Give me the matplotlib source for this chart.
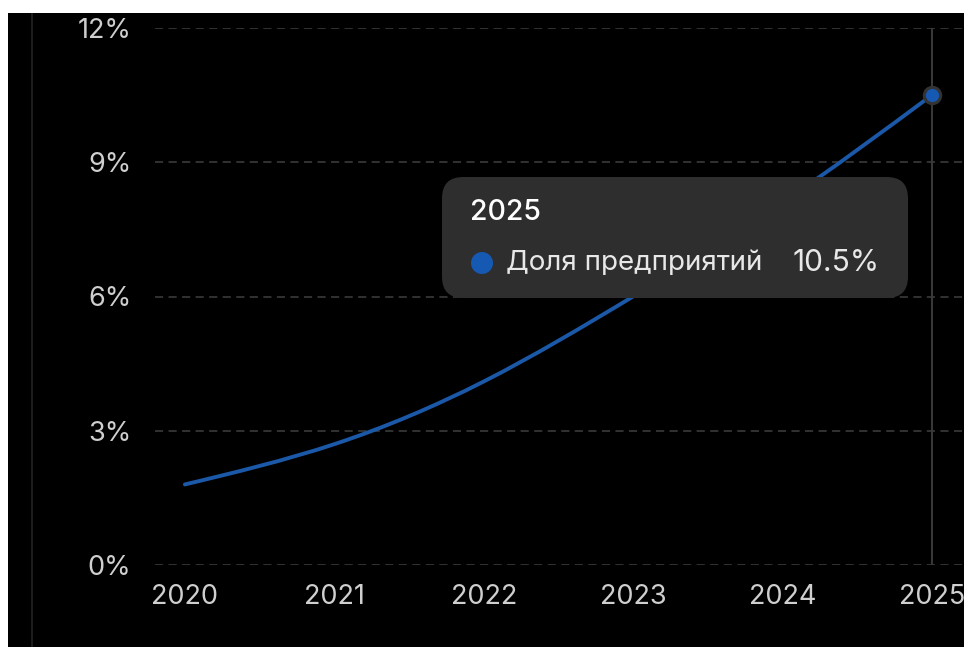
import numpy as np
import matplotlib
matplotlib.use("Agg")
import matplotlib.pyplot as plt
from matplotlib.path import Path
from matplotlib.patches import PathPatch, FancyBboxPatch, Rectangle, Circle

plt.rcParams['font.family'] = ['Inter', 'DejaVu Sans']

years = [2020, 2021, 2022, 2023, 2024, 2025]
share = [1.8, 2.7, 4.1, 6.0, 8.1, 10.5]
yticks = [0, 3, 6, 9, 12]
series_name = 'Доля предприятий'
hover_idx = 5

W, H = 964, 647
LINE = '#1b58a8'
GRID = '#363636'
TXT = '#cfcfcf'


def spline_path(x, y):
    # natural cubic spline through the points, drawn as bezier segments
    x = np.asarray(x, float)
    y = np.asarray(y, float)
    n = len(x)
    h = np.diff(x)
    A = np.zeros((n, n))
    b = np.zeros(n)
    A[0, 0] = A[-1, -1] = 1
    for i in range(1, n - 1):
        A[i, i - 1] = h[i - 1]
        A[i, i] = 2 * (h[i - 1] + h[i])
        A[i, i + 1] = h[i]
        b[i] = 6 * ((y[i + 1] - y[i]) / h[i] - (y[i] - y[i - 1]) / h[i - 1])
    M = np.linalg.solve(A, b)
    verts = [(x[0], y[0])]
    codes = [Path.MOVETO]
    for i in range(n - 1):
        s = (y[i + 1] - y[i]) / h[i]
        m0 = s - h[i] * (2 * M[i] + M[i + 1]) / 6
        m1 = s + h[i] * (M[i] + 2 * M[i + 1]) / 6
        dx = h[i] / 3
        verts += [(x[i] + dx, y[i] + m0 * dx),
                  (x[i + 1] - dx, y[i + 1] - m1 * dx),
                  (x[i + 1], y[i + 1])]
        codes += [Path.CURVE4] * 3
    return Path(verts, codes)


fig = plt.figure(figsize=(W / 100, H / 100), dpi=100, facecolor='black')

# white strips at top and left, faint vertical line
fig.patches.append(Rectangle((0, 1 - 13 / H), 1, 13 / H, transform=fig.transFigure,
                             facecolor='white', edgecolor='none', zorder=0))
fig.patches.append(Rectangle((0, 0), 8 / W, 1, transform=fig.transFigure,
                             facecolor='white', edgecolor='none', zorder=0))
fig.patches.append(Rectangle((31 / W, 0), 1.5 / W, 1 - 13 / H, transform=fig.transFigure,
                             facecolor='#1c1c1c', edgecolor='none', zorder=0))

ax = fig.add_axes([155 / W, (H - 565) / H, (W - 155) / W, (565 - 28) / H])
ax.set_facecolor('black')
ax.set_xlim(2019.8, 2025.215)
ax.set_ylim(0, 12)

for v in yticks:
    ax.axhline(v, color=GRID, lw=1.3, ls=(0, (4.5, 3)), zorder=1)

ax.axvline(years[hover_idx], color='#3a3a3a', lw=1.4, zorder=2)

ax.add_patch(PathPatch(spline_path(years, share), facecolor='none',
                       edgecolor=LINE, lw=2.8, capstyle='round', zorder=3))

ax.plot([years[hover_idx]], [share[hover_idx]], 'o', ms=14, mfc='#333333', mec='none', zorder=4)
ax.plot([years[hover_idx]], [share[hover_idx]], 'o', ms=9.5, mfc='#1659b3', mec='none', zorder=5)

ax.set_xticks(years)
ax.set_yticks(yticks)
ax.set_yticklabels([f'{v}%' for v in yticks])
ax.tick_params(axis='both', length=0, labelsize=19.5, colors=TXT)
ax.tick_params(axis='y', pad=17)
ax.tick_params(axis='x', pad=14)
for s in ax.spines.values():
    s.set_visible(False)

# tooltip
tx0, ty0, tx1, ty1 = 442, 177, 908, 298
box = FancyBboxPatch((tx0 / W, (H - ty1) / H), (tx1 - tx0) / W, (ty1 - ty0) / H,
                     boxstyle='round,pad=0,rounding_size=0.022', transform=fig.transFigure,
                     facecolor='#2e2e2e', edgecolor='none', zorder=10,
                     mutation_aspect=W / H)
fig.patches.append(box)
fig.text(470 / W, (H - 212) / H, str(years[hover_idx]), color='white', fontsize=20.5,
         fontweight='medium', va='center', ha='left', zorder=11)
dot = Circle((482 / 100, (H - 263) / 100), 0.11, transform=fig.dpi_scale_trans,
             facecolor='#1659b3', edgecolor='none', zorder=11)
fig.patches.append(dot)
fig.text(506 / W, (H - 263) / H, series_name, color='#e8e8e8', fontsize=20,
         va='center', ha='left', zorder=11)
fig.text(880 / W, (H - 263) / H, f'{share[hover_idx]}%', color='#e8e8e8', fontsize=21.5,
         va='center', ha='right', zorder=11)

fig.savefig('out.png', dpi=100, facecolor='black')
